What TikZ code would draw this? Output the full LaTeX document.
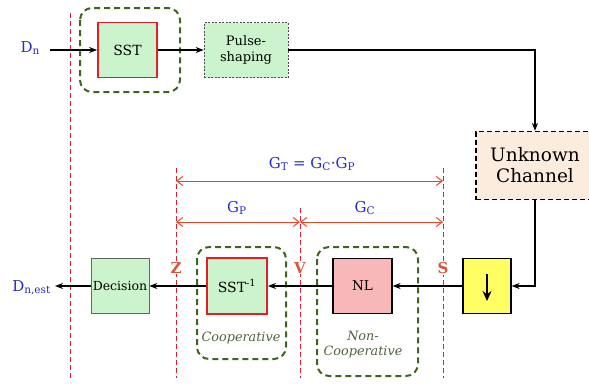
\documentclass[tikz,border=0pt]{standalone}
\usepackage{fontspec}
\setmainfont{DejaVu Serif}
\usetikzlibrary{arrows.meta}
\definecolor{boxgreen}{RGB}{204,244,204}
\definecolor{sstred}{RGB}{228,30,36}
\definecolor{olive}{RGB}{62,100,30}
\definecolor{chanfill}{RGB}{252,236,222}
\definecolor{nlpink}{RGB}{248,184,186}
\definecolor{yel}{RGB}{255,255,100}
\definecolor{dimred}{RGB}{232,70,40}
\definecolor{cutred}{RGB}{220,30,50}
\definecolor{lblblue}{RGB}{40,40,200}
\definecolor{ptred}{RGB}{215,85,60}
\definecolor{italgreen}{RGB}{80,100,60}
\tikzset{
  blk/.style={draw, minimum width=59pt, minimum height=55pt, inner sep=0pt, align=center, font=\fontsize{12.5}{14}\selectfont},
  sstbox/.style={blk, fill=boxgreen, draw=sstred, line width=1.8pt},
  group/.style={draw=olive, line width=2pt, dash pattern=on 6pt off 4pt, rounded corners=12pt},
  cut/.style={draw=cutred, line width=1pt, dash pattern=on 5pt off 3pt},
  sig/.style={draw=black, line width=1.6pt, -{Stealth[length=8pt,width=6pt]}},
  dim/.style={draw=dimred, line width=1pt, {Straight Barb[length=6pt,width=9pt]}-{Straight Barb[length=6pt,width=9pt]}},
  dimlbl/.style={text=lblblue, font=\fontsize{15}{16}\selectfont, inner sep=1pt},
  ptlbl/.style={text=ptred, fill=white, inner sep=1pt, font=\bfseries\fontsize{15}{16}\selectfont},
  grouplbl/.style={text=italgreen, font=\itshape\fontsize{12.8}{15}\selectfont, align=center}
}
\begin{document}
\begin{tikzpicture}[x=1pt,y=-1pt]
\useasboundingbox (0,0) rectangle (589,383);
% cut lines
\draw[cut] (70,13) -- (70,378);
\draw[cut] (176,168) -- (176,378);
\draw[cut] (300,208) -- (300,378);
\draw[cut] (443,168) -- (443,378);
% groups
\draw[group] (80,8) rectangle (180,92);
\draw[group] (197,247) rectangle (286,359);
\draw[group] (317,247) rectangle (418,376);
% nodes
\node[dimlbl, anchor=east] (dn) at (41,48) {D\textsubscript{n}};
\node[sstbox, font=\fontsize{14}{15}\selectfont] (sst) at (127.5,50) {SST};
\node[blk, fill=boxgreen, draw=black!70, line width=0.6pt, dash pattern=on 2pt off 1.5pt, minimum width=84pt, minimum height=55pt, font=\fontsize{13}{16}\selectfont] (ps) at (246,50) {Pulse-\\shaping};
\node[blk, fill=chanfill, draw=black, line width=1.2pt, dash pattern=on 5pt off 3pt, minimum width=118pt, minimum height=68pt, font=\fontsize{18.5}{21}\selectfont] (ch) at (535,165.5) {Unknown\\Channel};
\node[blk, fill=yel, draw=black, line width=1.2pt, minimum width=48pt, minimum height=55pt] (ds) at (487,286) {};
\node[blk, fill=nlpink, draw=black, line width=1.2pt, font=\fontsize{13.5}{15}\selectfont] (nl) at (362.5,286) {NL};
\node[sstbox, minimum width=60pt, minimum height=56pt, font=\fontsize{14}{15}\selectfont] (ssti) at (237,286) {SST\textsuperscript{-1}};
\node[blk, fill=boxgreen, draw=black!60, line width=0.6pt, minimum width=58pt, minimum height=55pt] (dec) at (120,286) {Decision};
\node[dimlbl, anchor=east] (dest) at (52,288) {D\textsubscript{n,est}};
\coordinate (destend) at (55,286);
\coordinate (dnst) at (50,50);
% down arrow in yellow box
\coordinate (da1) at (487,274);
\coordinate (da2) at (487,301);
\draw[line width=2pt, -{Stealth[length=10pt,width=9pt]}] (da1) -- (da2);
% signal connectors
\draw[sig] (dnst) -- (sst.west);
\draw[sig] (sst) -- (ps);
\draw[sig] (ps.east) -| (ch.north);
\draw[sig] (ch.south) |- (ds.east);
\draw[sig] (ds) -- (nl);
\draw[sig] (nl) -- (ssti);
\draw[sig] (ssti) -- (dec);
\draw[sig] (dec.west) -- (destend);
% dimension lines
\coordinate (tL) at (176,181); \coordinate (tR) at (443,181);
\coordinate (pL) at (176,222); \coordinate (pR) at (300,222);
\coordinate (cR) at (443,222);
\draw[dim] (tL) -- (tR);
\draw[dim] (pL) -- (pR);
\draw[dim] (pR) -- (cR);
\node[dimlbl] (gt) at (312,164) {G\textsubscript{T} = G\textsubscript{C}·G\textsubscript{P}};
\node[dimlbl] (gp) at (237,208) {G\textsubscript{P}};
\node[dimlbl] (gc) at (365,208) {G\textsubscript{C}};
% point labels
\node[ptlbl] (z) at (176,268) {Z};
\node[ptlbl] (v) at (300,268) {V};
\node[ptlbl] (s) at (443,268) {S};
% group labels
\node[grouplbl] (coop) at (241,338) {Cooperative};
\node[grouplbl] (ncoop) at (363,345) {Non-\\Cooperative};
\end{tikzpicture}
\end{document}
